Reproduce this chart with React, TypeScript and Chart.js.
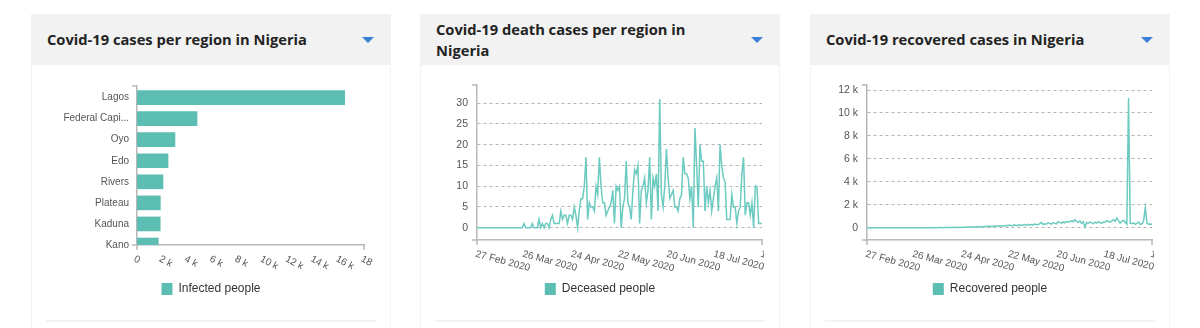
import React, { useEffect, useRef } from "react";
import { Chart, registerables } from "chart.js";

Chart.register(...registerables);

// ---------- DATA ----------
const REGIONS = ["Lagos", "Federal Capital Territory", "Oyo", "Edo", "Rivers", "Plateau", "Kaduna", "Kano"];
const INFECTED = [16470, 4760, 3010, 2460, 2060, 1850, 1840, 1690];
const INFECTED_TICKS = [0, 2000, 4000, 6000, 8000, 10000, 12000, 14000, 16000, 18000];
const INFECTED_TICK_LABELS = ["0", "2 k", "4 k", "6 k", "8 k", "10 k", "12 k", "14 k", "16 k", "18 k"];

// day index 0 = 27 Feb 2020
const DATE_TICK_DAYS = [0, 28, 57, 85, 114, 142, 170];
const DATE_TICK_LABELS = ["27 Feb 2020", "26 Mar 2020", "24 Apr 2020", "22 May 2020", "20 Jun 2020", "18 Jul 2020", "15 Aug 2020"];

const DEATHS = [
  0, 0, 0, 0, 0, 0, 0, 0, 0, 0,
  0, 0, 0, 0, 0, 0, 0, 0, 0, 0,
  0, 0, 0, 0, 0, 0, 0, 0, 1, 0,
  0, 0, 0, 1, 0, 0, 0, 2, 0, 1,
  0, 1, 1, 0, 2, 3, 1, 1, 1, 1,
  4, 2, 3, 3, 1, 3, 3, 2, 5, 3,
  0, 4, 7, 7, 10, 17, 2, 6, 5, 5,
  4, 10, 8, 17, 10, 6, 6, 3, 4, 5,
  6, 9, 1, 10, 9, 10, 0, 5, 7, 16,
  6, 5, 2, 9, 14, 13, 15, 1, 9, 10,
  12, 6, 9, 17, 2, 12, 10, 13, 4, 31,
  8, 5, 10, 19, 12, 7, 8, 9, 5, 5,
  4, 7, 8, 17, 13, 13, 12, 7, 10, 0,
  24, 15, 5, 20, 16, 16, 4, 10, 6, 9,
  4, 7, 10, 12, 4, 20, 15, 12, 11, 2,
  2, 2, 8, 5, 5, 1, 4, 5, 13, 17,
  3, 6, 6, 3, 6, 0, 10, 10, 1, 1,
  1,
];
const DEATH_TICKS = [0, 5, 10, 15, 20, 25, 30];

const RECOVERED = [
  0, 0, 0, 0, 0, 0, 0, 0, 0, 0,
  0, 0, 0, 0, 0, 0, 0, 0, 0, 1,
  0, 0, 0, 1, 0, 0, 1, 0, 2, 0,
  3, 0, 0, 5, 2, 0, 4, 0, 8, 5,
  10, 0, 6, 12, 17, 4, 9, 15, 20, 12,
  25, 30, 18, 35, 26, 40, 22, 45, 38, 55,
  42, 60, 70, 48, 85, 65, 90, 72, 110, 95,
  80, 120, 105, 140, 98, 130, 115, 160, 125, 175,
  150, 190, 140, 210, 165, 230, 180, 200, 245, 170,
  220, 260, 190, 240, 280, 210, 300, 235, 270, 250,
  320, 290, 260, 350, 460, 280, 340, 300, 420, 370,
  310, 450, 380, 330, 520, 470, 400, 500, 430, 560,
  480, 540, 600, 520, 700, 560, 450, 600, 380, 520,
  80, 450, 380, 500, 420, 350, 480, 400, 520, 440,
  380, 500, 460, 620, 540, 480, 600, 700, 560, 850,
  620, 400, 540, 650, 480, 300, 11300, 400, 350, 420,
  300, 380, 500, 280, 350, 600, 1740, 380, 300, 320,
  300,
];
const RECOVERED_TICKS = [0, 2000, 4000, 6000, 8000, 10000, 12000];
const RECOVERED_TICK_LABELS = ["0", "2 k", "4 k", "6 k", "8 k", "10 k", "12 k"];

// ---------- STYLE ----------
const TEAL_BAR = "#5cbdb2";
const TEAL_LINE = "#6ccbc1";
const AXIS = "#b8b8b8";
const GRID = "#b4b4b4";
const TICK_TEXT = "#555555";
const FONT = "'Liberation Sans', Arial, Helvetica, sans-serif";

Chart.defaults.font.family = FONT;

function axisPlugin(values: number[], labels: string[], angleDeg: number, clipRight: number, fontSize: number) {
  return {
    id: "axisDecor",
    afterDraw(chart: any) {
      const ctx = chart.ctx;
      const xs = chart.scales.x;
      const { left, right, top, bottom } = chart.chartArea;
      ctx.save();
      ctx.strokeStyle = AXIS;
      ctx.lineWidth = 1.5;
      ctx.beginPath();
      ctx.moveTo(left - 5, top); ctx.lineTo(left, top);
      ctx.moveTo(left - 5, bottom); ctx.lineTo(left, bottom);
      ctx.moveTo(left, bottom); ctx.lineTo(left, bottom + 5);
      ctx.moveTo(right, bottom); ctx.lineTo(right, bottom + 5);
      ctx.stroke();
      ctx.beginPath();
      ctx.rect(0, 0, clipRight, chart.height);
      ctx.clip();
      ctx.font = fontSize + "px " + FONT;
      ctx.fillStyle = TICK_TEXT;
      ctx.textAlign = "left";
      ctx.textBaseline = "top";
      values.forEach((v, i) => {
        const px = xs.getPixelForValue(v);
        ctx.save();
        ctx.translate(px, xs.top + 9);
        ctx.rotate((angleDeg * Math.PI) / 180);
        ctx.fillText(labels[i], 0, 0);
        ctx.restore();
      });
      ctx.restore();
    },
  };
}

const legendOpts = {
  position: "bottom" as const,
  labels: {
    boxWidth: 11,
    boxHeight: 12,
    padding: 10,
    color: "#333",
    font: { size: 12, family: FONT },
  },
};

function barConfig(): any {
  return {
    type: "bar",
    data: {
      datasets: [
        {
          label: "Infected people",
          data: REGIONS.map((_, i) => ({ x: INFECTED[i], y: i })),
          backgroundColor: TEAL_BAR,
          borderWidth: 0,
          barThickness: 14,
        },
      ],
    },
    options: {
      indexAxis: "y",
      responsive: false,
      animation: false,
      devicePixelRatio: 1,
      layout: { padding: { top: 21, bottom: 10, left: 27, right: 27 } },
      plugins: { legend: legendOpts, tooltip: { enabled: false } },
      scales: {
        x: {
          type: "linear",
          min: 0,
          max: 18000,
          offset: false,
          afterBuildTicks: (s: any) => { s.ticks = INFECTED_TICKS.map((v) => ({ value: v })); },
          afterFit: (s: any) => { s.height = 28; },
          ticks: { display: false },
          grid: { display: false, drawTicks: false, offset: false },
          border: { display: true, color: AXIS, width: 1.5 },
        },
        y: {
          type: "linear",
          min: -0.55,
          max: 7,
          reverse: true,
          offset: false,
          afterBuildTicks: (s: any) => { s.ticks = REGIONS.map((_, i) => ({ value: i })); },
          afterFit: (s: any) => { s.width = 79; },
          ticks: {
            padding: 8,
            color: TICK_TEXT,
            font: { size: 10, family: FONT },
            callback: (v: number) => {
              const name = REGIONS[v] || "";
              return name.length > 12 ? name.slice(0, 12) + "..." : name;
            },
          },
          grid: { display: false, drawTicks: false, offset: false },
          border: { display: true, color: AXIS, width: 1.5 },
        },
      },
    },
    plugins: [axisPlugin(INFECTED_TICKS, INFECTED_TICK_LABELS, 28, 342, 10)],
  };
}

function lineConfig(label: string, values: number[], yTicks: number[], yLabels: string[], yMin: number, yMax: number): any {
  return {
    type: "line",
    data: {
      datasets: [
        {
          label,
          data: values.map((v, i) => ({ x: i, y: v })),
          borderColor: TEAL_LINE,
          backgroundColor: TEAL_BAR,
          borderWidth: 1.5,
          pointRadius: 0,
          tension: 0,
          fill: false,
        },
      ],
    },
    options: {
      responsive: false,
      animation: false,
      devicePixelRatio: 1,
      layout: { padding: { top: 20, bottom: 10, left: 18, right: 18 } },
      plugins: {
        legend: {
          ...legendOpts,
          labels: {
            ...legendOpts.labels,
            generateLabels: (chart: any) =>
              chart.data.datasets.map((d: any, i: number) => ({
                text: d.label,
                fillStyle: TEAL_BAR,
                strokeStyle: TEAL_BAR,
                lineWidth: 0,
                fontColor: "#333",
                datasetIndex: i,
                hidden: false,
              })),
          },
        },
        tooltip: { enabled: false },
      },
      scales: {
        x: {
          type: "linear",
          min: DATE_TICK_DAYS[0],
          max: DATE_TICK_DAYS[DATE_TICK_DAYS.length - 1],
          afterBuildTicks: (s: any) => { s.ticks = DATE_TICK_DAYS.map((v) => ({ value: v })); },
          afterFit: (s: any) => { s.height = 33; },
          ticks: { display: false },
          grid: { display: false, drawTicks: false },
          border: { display: true, color: AXIS, width: 1.5 },
        },
        y: {
          type: "linear",
          min: yMin,
          max: yMax,
          afterBuildTicks: (s: any) => { s.ticks = yTicks.map((v) => ({ value: v })); },
          afterFit: (s: any) => { s.width = 39; },
          ticks: {
            padding: 9,
            color: TICK_TEXT,
            font: { size: 10.5, family: FONT },
            callback: (v: number) => yLabels[yTicks.indexOf(v)] ?? String(v),
          },
          grid: { display: true, drawTicks: false, color: GRID, lineWidth: 1 },
          border: { display: true, color: AXIS, width: 1.5, dash: [3, 3] },
        },
      },
    },
    plugins: [axisPlugin(DATE_TICK_DAYS, DATE_TICK_LABELS, 15, 344, 10)],
  };
}

function ChartCanvas({ makeConfig }: { makeConfig: () => any }) {
  const ref = useRef<HTMLCanvasElement | null>(null);
  useEffect(() => {
    const chart = new Chart(ref.current as HTMLCanvasElement, makeConfig());
    return () => chart.destroy();
  }, []);
  return (
    <canvas
      ref={ref}
      width={360}
      height={250}
      style={{ position: "absolute", left: 0, top: 51, width: 360, height: 250 }}
    />
  );
}

function Panel({ left, title, children }: { left: number; title: string[]; children: React.ReactNode }) {
  return (
    <div style={{ position: "absolute", left, top: 14, width: 360, height: 314 }}>
      <div
        style={{
          position: "absolute", left: 0, top: 0, width: 360, height: 51,
          background: "#f2f2f2", display: "flex", alignItems: "center",
          paddingLeft: 16, boxSizing: "border-box",
        }}
      >
        <div style={{ fontFamily: "'Open Sans', sans-serif", fontWeight: 700, fontSize: 14.7, color: "#232323", lineHeight: "21px" }}>
          {title.map((t, i) => (<div key={i}>{t}</div>))}
        </div>
      </div>
      <div
        style={{
          position: "absolute", left: 331, top: 23, width: 0, height: 0,
          borderLeft: "6px solid transparent", borderRight: "6px solid transparent",
          borderTop: "6px solid #3d7fd8",
        }}
      />
      <div
        style={{
          position: "absolute", left: 0, top: 51, width: 360, height: 263,
          borderLeft: "1px solid #f3f3f3", borderRight: "1px solid #f3f3f3", boxSizing: "border-box",
        }}
      />
      {children}
      <div style={{ position: "absolute", left: 15, top: 306, width: 330, height: 2, background: "#f3f3f3" }} />
    </div>
  );
}

export default function App() {
  return (
    <div style={{ position: "absolute", left: 0, top: 0, width: 1200, height: 328, background: "#fff", overflow: "hidden" }}>
      <Panel left={31} title={["Covid-19 cases per region in Nigeria"]}>
        <ChartCanvas makeConfig={barConfig} />
      </Panel>
      <Panel left={420} title={["Covid-19 death cases per region in", "Nigeria"]}>
        <ChartCanvas makeConfig={() => lineConfig("Deceased people", DEATHS, DEATH_TICKS, DEATH_TICKS.map(String), -2.97, 34.4)} />
      </Panel>
      <Panel left={810} title={["Covid-19 recovered cases in Nigeria"]}>
        <ChartCanvas makeConfig={() => lineConfig("Recovered people", RECOVERED, RECOVERED_TICKS, RECOVERED_TICK_LABELS, -1070, 12440)} />
      </Panel>
    </div>
  );
}
